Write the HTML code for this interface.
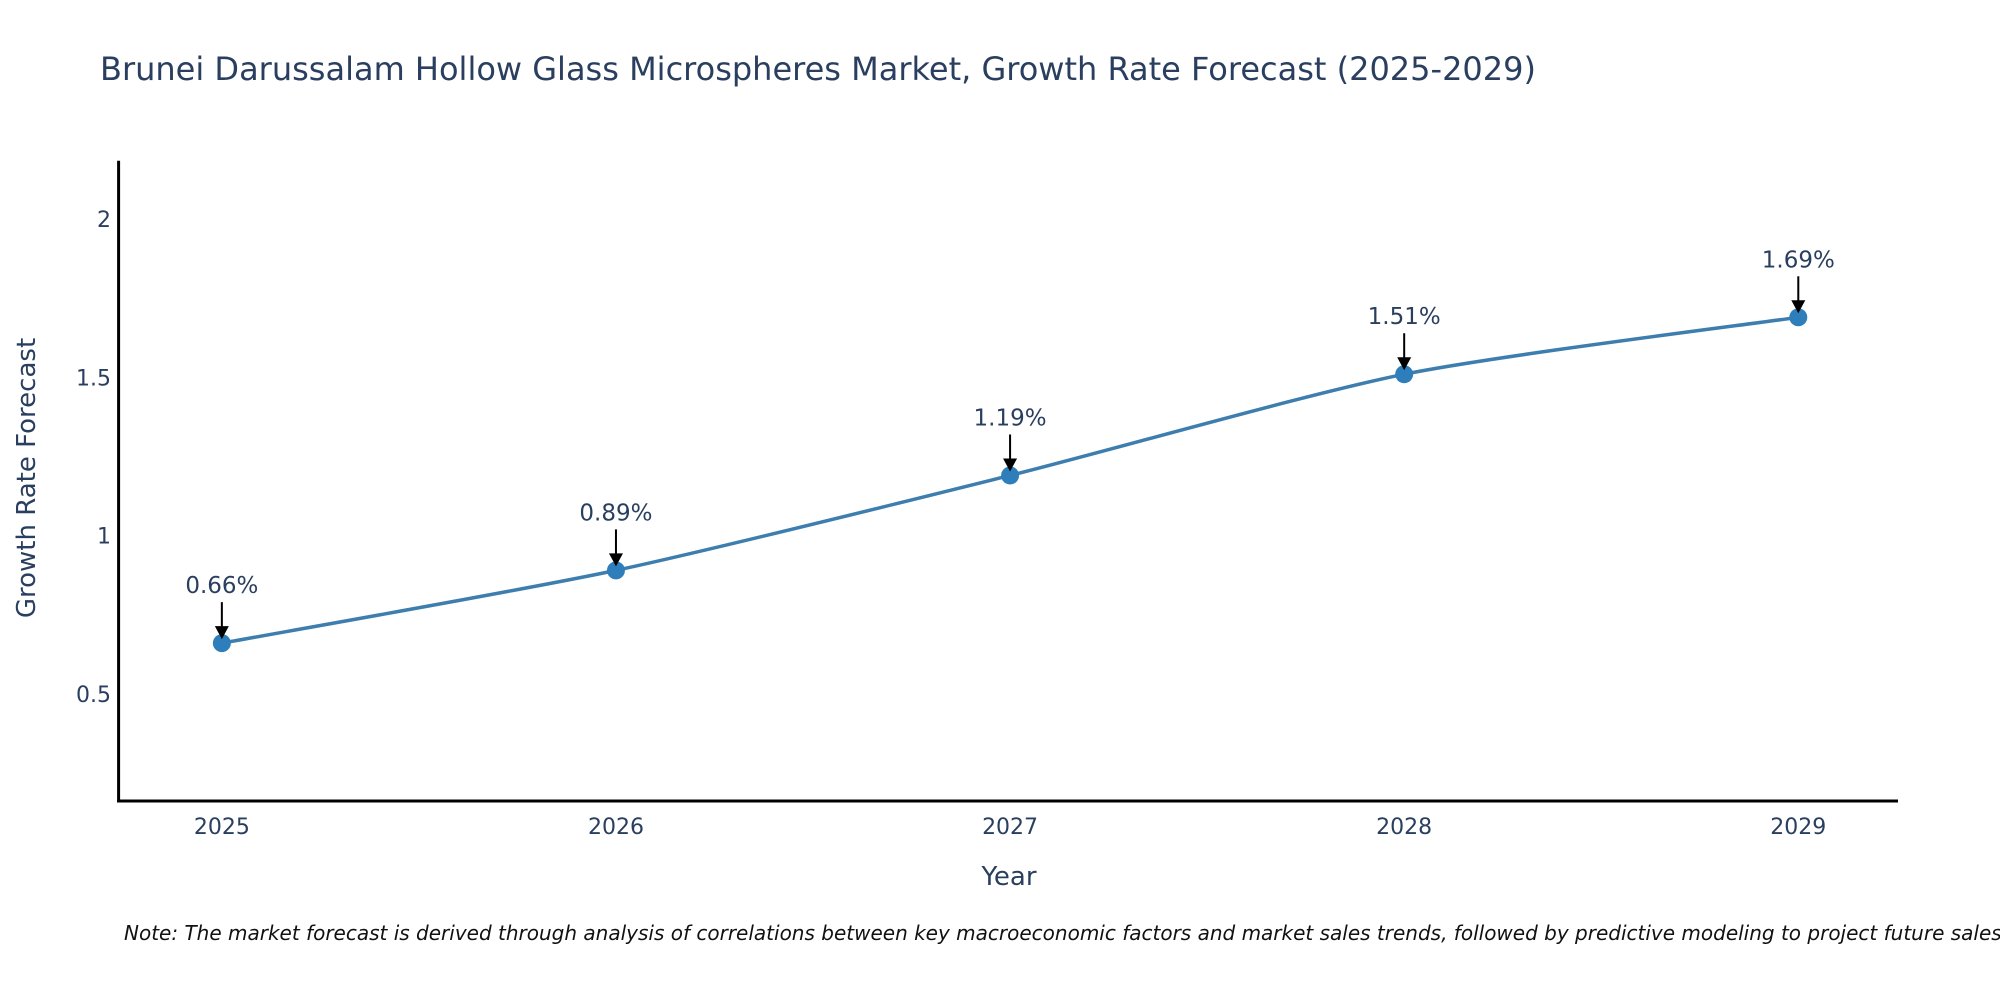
<!DOCTYPE html>
<html><head><meta charset="utf-8"><style>
html,body{margin:0;padding:0;background:#fff;width:2000px;height:1000px;overflow:hidden}
svg text{font-family:"DejaVu Sans","Liberation Sans",sans-serif}
</style></head><body>
<svg id="chart" width="2000" height="1000" xmlns="http://www.w3.org/2000/svg">
<text x="100" y="80" font-size="32" fill="#2a3f5f">Brunei Darussalam Hollow Glass Microspheres Market, Growth Rate Forecast (2025-2029)</text>
<g id="grid"></g>
<g id="series"></g>
<g id="axes"></g>
<text transform="translate(35,478) rotate(-90)" text-anchor="middle" font-size="26" fill="#2a3f5f">Growth Rate Forecast</text>
<text x="1009" y="885" text-anchor="middle" font-size="26" fill="#2a3f5f">Year</text>
<text x="124" y="940" font-size="20" font-style="italic" fill="#111">Note: The market forecast is derived through analysis of correlations between key macroeconomic factors and market sales trends, followed by predictive modeling to project future sales.</text>
</svg>
<script>
const years = [2025, 2026, 2027, 2028, 2029];
const rates = [0.66, 0.89, 1.19, 1.51, 1.69];
const yTicks = [0.5, 1, 1.5, 2];
const labels = ["0.66%", "0.89%", "1.19%", "1.51%", "1.69%"];

const NS = "http://www.w3.org/2000/svg";
const L = 118.6, R = 1898, T = 160.7, B = 801;
const xMin = 2024.738, xMax = 2029.253, yMin = 0.161, yMax = 2.185;
const xs = v => L + (v - xMin) / (xMax - xMin) * (R - L);
const ys = v => B - (v - yMin) / (yMax - yMin) * (B - T);
function mk(tag, attrs, parent) {
  const e = document.createElementNS(NS, tag);
  for (const k in attrs) e.setAttribute(k, attrs[k]);
  parent.appendChild(e);
  return e;
}
const axes = document.getElementById('axes');
const series = document.getElementById('series');

yTicks.forEach(t => {
  const tx = mk('text', {x: 111, y: ys(t) + 8, 'text-anchor': 'end', 'font-size': 22, fill: '#2a3f5f'}, axes);
  
  
  tx.textContent = t;
});
years.forEach(y => {
  const tx = mk('text', {x: xs(y), y: 834, 'text-anchor': 'middle', 'font-size': 22, fill: '#2a3f5f'}, axes);
  
  
  tx.textContent = y;
});
const ya = mk('line', {x1: L, y1: T, x2: L, y2: B + 1.5, stroke: '#000', 'stroke-width': 3}, axes);


const xa = mk('line', {x1: L - 1.5, y1: B, x2: R, y2: B, stroke: '#000', 'stroke-width': 3}, axes);



const pts = years.map((y, i) => [xs(y), ys(rates[i])]);
let d = `M${pts[0][0]},${pts[0][1]}`;
const k = 0.12;
for (let i = 0; i < pts.length - 1; i++) {
  const p0 = pts[Math.max(0, i - 1)], p1 = pts[i], p2 = pts[i + 1], p3 = pts[Math.min(pts.length - 1, i + 2)];
  const c1 = [p1[0] + (p2[0] - p0[0]) * k, p1[1] + (p2[1] - p0[1]) * k];
  const c2 = [p2[0] - (p3[0] - p1[0]) * k, p2[1] - (p3[1] - p1[1]) * k];
  d += ` C${c1[0]},${c1[1]} ${c2[0]},${c2[1]} ${p2[0]},${p2[1]}`;
}
const line = mk('path', {d: d, fill: 'none', stroke: '#3d7eae', 'stroke-width': 3.5}, series);



pts.forEach((p, i) => {
  const c = mk('circle', {cx: p[0], cy: p[1], r: 9, fill: '#2f7ebc'}, series);
  
  
  const ar = mk('line', {x1: p[0], y1: p[1] - 41, x2: p[0], y2: p[1] - 14, stroke: '#000', 'stroke-width': 2}, series);
  
  
  const hd = mk('polygon', {points: `${p[0]-7},${p[1]-17} ${p[0]+7},${p[1]-17} ${p[0]},${p[1]-4}`, fill: '#000'}, series);
  
  
  const lb = mk('text', {x: p[0], y: p[1] - 50, 'text-anchor': 'middle', 'font-size': 23, fill: '#2a3f5f'}, series);
  
  
  lb.textContent = labels[i];
});
</script>
</body></html>
